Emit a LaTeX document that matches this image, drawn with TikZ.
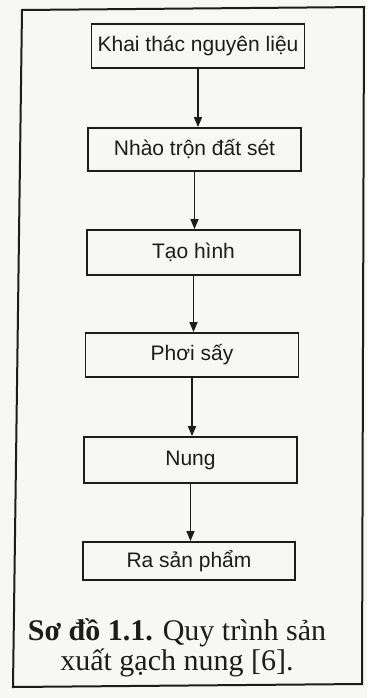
\documentclass[tikz,border=0pt]{standalone}
\usepackage{fontspec}
\setmainfont{Liberation Serif}
\setsansfont{Liberation Sans}
\usetikzlibrary{arrows.meta}
\definecolor{ink}{HTML}{1C1C1C}
\definecolor{paper}{HTML}{F7F7F5}
\begin{document}
\begin{tikzpicture}[x=1pt,y=-1pt,
  stepbox/.style={draw=ink, line width=1.8pt, minimum height=44pt, minimum width=213pt,
    inner sep=0pt, text=ink, font=\sffamily\fontsize{21}{25}\selectfont},
  flow/.style={draw=ink, line width=1.5pt, -{Triangle[length=10pt,width=8pt]}},
  capt/.style={anchor=base, inner sep=0pt, align=center, text=ink, font=\fontsize{30}{27}\selectfont},
  frame/.style={draw=ink, line width=2pt}]
\fill[paper] (0,0) rectangle (367,698);
\useasboundingbox (0,0) rectangle (367,698);
\draw[frame] (22,10) -- (364,7) -- (362,684) -- (13,687) -- cycle;

\node[stepbox] (b1) at (198,46) {Khai thác nguyên liệu};
\node[stepbox, minimum height=43pt] (b2) at (194.5,149.5) {Nhào trộn đất sét};
\node[stepbox, minimum height=45pt] (b3) at (193.5,252.5) {Tạo hình};
\node[stepbox] (b4) at (192,355) {Phơi sấy};
\node[stepbox, minimum height=46pt] (b5) at (190.5,460) {Nung};
\node[stepbox, minimum height=38pt, minimum width=212pt] (b6) at (189,561) {Ra sản phẩm};

\draw[flow] (b1.south) -- (b1.south |- b2.north);
\draw[flow] (b2.south) -- (b2.south |- b3.north);
\draw[flow] (b3.south) -- (b3.south |- b4.north);
\draw[flow] (b4.south) -- (b4.south |- b5.north);
\draw[flow] (b5.south) -- (b5.south |- b6.north);

\node[capt] (cap) at (177,670) {\textbf{Sơ đồ 1.1.} Quy trình sản\\xuất gạch nung [6].};
\end{tikzpicture}
\end{document}
